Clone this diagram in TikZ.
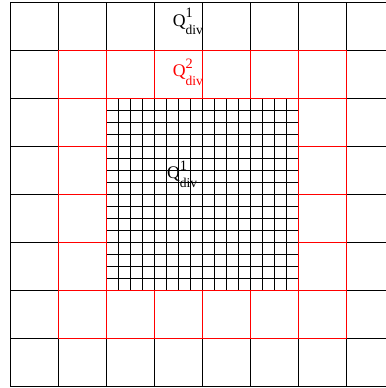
\documentclass[tikz,border=0pt]{standalone}
\usepackage{fontspec}
\setmainfont{Liberation Serif}
\newcommand{\qlabel}[1]{Q\rlap{\raisebox{5.2pt}{\fontsize{8.5}{9}\selectfont #1}}\raisebox{-5pt}{\fontsize{8}{9}\selectfont div}}
\begin{document}
\begin{tikzpicture}[x=1cm,y=1cm,
  gridline/.style={line width=0.75pt},
  lbl/.style={inner sep=0pt, anchor=base west, font=\fontsize{10.5}{12}\selectfont}]
\useasboundingbox (-0.219,-0.031) rectangle (7.802,8.052);
\draw[gridline,black] (0,0) grid (8,8);
\draw[gridline,red] (1,1) grid (7,7);
\draw[gridline,black] (2,2) grid[step=0.25] (6,6);
\draw[gridline,red] (2,2) rectangle (6,6);
\node[lbl,black] (qtop) at (3.375,7.50) {\qlabel{1}};
\node[lbl,red] (qred) at (3.375,6.448) {\qlabel{2}};
\node[lbl,black] (qmid) at (3.257,4.323) {\qlabel{1}};
\end{tikzpicture}
\end{document}
